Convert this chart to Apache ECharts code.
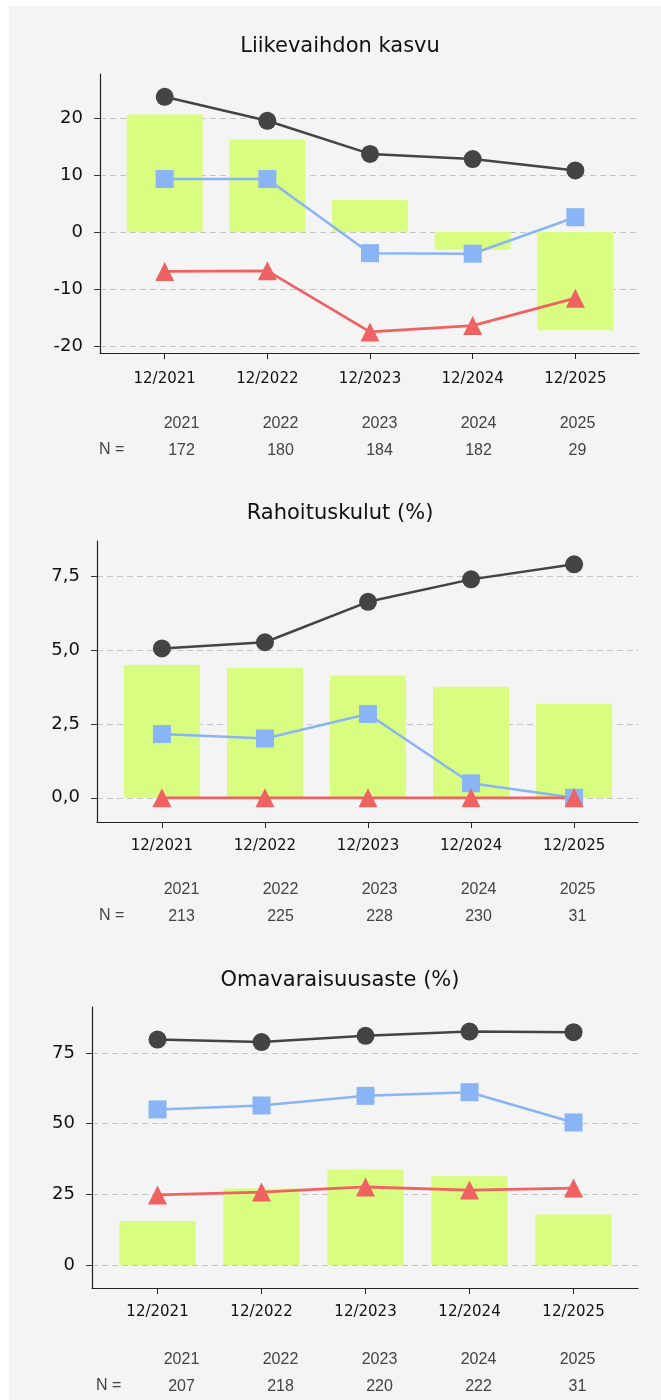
<!DOCTYPE html>
<html>
<head>
<meta charset="utf-8">
<script src="https://cdn.jsdelivr.net/npm/echarts@6/dist/echarts.min.js"></script>
<style>
body { margin: 0; background: #fff; }
#panel { position: absolute; left: 9px; top: 6px; width: 652px; height: 1394px; background: #f4f4f4; }
#chart { position: absolute; left: 0; top: 0; width: 661px; height: 1400px; }
</style>
</head>
<body>
<div id="panel"></div>
<div id="chart"></div>
<script>
const periods = ['12/2021', '12/2022', '12/2023', '12/2024', '12/2025'];
const years = ['2021', '2022', '2023', '2024', '2025'];

// Liikevaihdon kasvu
const growthBars = [20.6, 16.2, 5.6, -3.1, -17.2];
const growthUpper = [23.7, 19.5, 13.7, 12.8, 10.8];
const growthMedian = [9.3, 9.3, -3.7, -3.8, 2.6];
const growthLower = [-6.9, -6.8, -17.5, -16.4, -11.6];
const growthN = [172, 180, 184, 182, 29];
const growthTicks = [-20, -10, 0, 10, 20];

// Rahoituskulut (%)
const financeBars = [4.50, 4.41, 4.14, 3.76, 3.19];
const financeUpper = [5.06, 5.27, 6.64, 7.40, 7.91];
const financeMedian = [2.16, 2.01, 2.84, 0.49, 0.0];
const financeLower = [0, 0, 0, 0, 0];
const financeN = [213, 225, 228, 230, 31];
const financeTicks = [0, 2.5, 5, 7.5];

// Omavaraisuusaste (%)
const equityBars = [15.6, 27.1, 33.8, 31.4, 17.9];
const equityUpper = [79.7, 78.8, 81.0, 82.5, 82.3];
const equityMedian = [55.0, 56.4, 59.8, 61.1, 50.4];
const equityLower = [24.8, 25.8, 27.6, 26.5, 27.2];
const equityN = [207, 218, 220, 222, 31];
const equityTicks = [0, 25, 50, 75];

const charts = [
    { title: 'Liikevaihdon kasvu', bars: growthBars, upper: growthUpper, median: growthMedian, lower: growthLower, n: growthN, ticks: growthTicks,
      fmt: v => String(v) },
    { title: 'Rahoituskulut (%)', bars: financeBars, upper: financeUpper, median: financeMedian, lower: financeLower, n: financeN, ticks: financeTicks,
      fmt: v => v.toFixed(1).replace('.', ',') },
    { title: 'Omavaraisuusaste (%)', bars: equityBars, upper: equityUpper, median: equityMedian, lower: equityLower, n: equityN, ticks: equityTicks,
      fmt: v => String(v) }
];

// placement of each panel
const layouts = [
    { top: 74, height: 279, left: 100, right: 22, min: -21.2, max: 27.7, labelMargin: 19, tableMargin: 57, titleTop: 36, nLeft: 99, nY: 450 },
    { top: 541, height: 281, left: 97, right: 23, min: -0.82, max: 8.7, labelMargin: 17, tableMargin: 54, titleTop: 503, nLeft: 99, nY: 916 },
    { top: 1007, height: 281, left: 92, right: 23, min: -8.1, max: 91.2, labelMargin: 17, tableMargin: 58, titleTop: 970, nLeft: 96, nY: 1386 }
];

const colBar = '#d8fd80';
const colUpper = '#444444';
const colMedian = '#89b4f5';
const colLower = '#ee6262';
const axisCol = '#222';

const pts = arr => arr.map((v, i) => [i, v]);

let title = [], grid = [], xAxis = [], yAxis = [], series = [], graphic = [];

charts.forEach((c, k) => {
    const L = layouts[k];
    title.push({
        text: c.title, left: 340, top: L.titleTop, textAlign: 'center', padding: 0,
        textStyle: { fontFamily: 'DejaVu Sans', fontSize: 21, fontWeight: 'normal', color: '#111' }
    });
    grid.push({ left: L.left, right: L.right, top: L.top, height: L.height });
    grid.push({ left: 132, right: 34, top: L.top, height: L.height });

    xAxis.push({
        type: 'value', gridIndex: 2 * k, min: -0.63, max: 4.62,
        axisLine: { onZero: false, lineStyle: { color: axisCol, width: 1.2 } },
        axisTick: { customValues: [0, 1, 2, 3, 4], length: 6, lineStyle: { color: axisCol } },
        axisLabel: {
            customValues: [0, 1, 2, 3, 4], margin: L.labelMargin,
            formatter: v => periods[Math.round(v)],
            fontFamily: 'DejaVu Sans', fontSize: 15, color: '#111'
        },
        splitLine: { show: false }
    });
    xAxis.push({
        type: 'category', gridIndex: 2 * k + 1, data: years,
        axisLine: { show: false }, axisTick: { show: false },
        axisLabel: {
            margin: L.tableMargin, interval: 0,
            formatter: (v, i) => '{y|' + v + '}\n{n|' + c.n[i] + '}',
            rich: {
                y: { fontFamily: 'Liberation Sans', fontSize: 16, lineHeight: 27, color: '#444' },
                n: { fontFamily: 'Liberation Sans', fontSize: 16, lineHeight: 27, color: '#444' }
            }
        }
    });

    yAxis.push({
        type: 'value', gridIndex: 2 * k, min: L.min, max: L.max,
        axisLine: { show: true, onZero: false, lineStyle: { color: axisCol, width: 1.2 } },
        axisTick: { show: true, customValues: c.ticks, length: 6, lineStyle: { color: '#333' } },
        axisLabel: {
            customValues: c.ticks, margin: 17, formatter: c.fmt,
            fontFamily: 'DejaVu Sans', fontSize: 18, color: '#111'
        },
        splitLine: { show: true, lineStyle: { color: '#c6c6c6', width: 1.2, type: [6, 4] } }
    });
    yAxis.push({ type: 'value', gridIndex: 2 * k + 1, min: 0, max: 1, show: false });

    const ax = { xAxisIndex: 2 * k, yAxisIndex: 2 * k };
    series.push(Object.assign({ type: 'bar', data: pts(c.bars), barWidth: 76, itemStyle: { color: colBar } }, ax));
    series.push(Object.assign({ type: 'line', data: pts(c.upper), symbol: 'circle', symbolSize: 18,
        itemStyle: { color: colUpper }, lineStyle: { color: colUpper, width: 2.5 } }, ax));
    series.push(Object.assign({ type: 'line', data: pts(c.median), symbol: 'rect', symbolSize: 18,
        itemStyle: { color: colMedian }, lineStyle: { color: colMedian, width: 2.5 } }, ax));
    series.push(Object.assign({ type: 'line', data: pts(c.lower), symbol: 'triangle', symbolSize: 19,
        itemStyle: { color: colLower }, lineStyle: { color: colLower, width: 2.8 } }, ax));

    graphic.push({
        type: 'text', x: L.nLeft, y: L.nY,
        style: { text: 'N =', fontFamily: 'Liberation Sans', fontSize: 16, fill: '#444', verticalAlign: 'middle' }
    });
});

const chart = echarts.init(document.getElementById('chart'));
chart.setOption({
    animation: false,
    backgroundColor: 'transparent',
    title: title,
    grid: grid,
    xAxis: xAxis,
    yAxis: yAxis,
    series: series,
    graphic: graphic
});
window.addEventListener('resize', function () {
    chart.resize();
});
</script>
</body>
</html>
